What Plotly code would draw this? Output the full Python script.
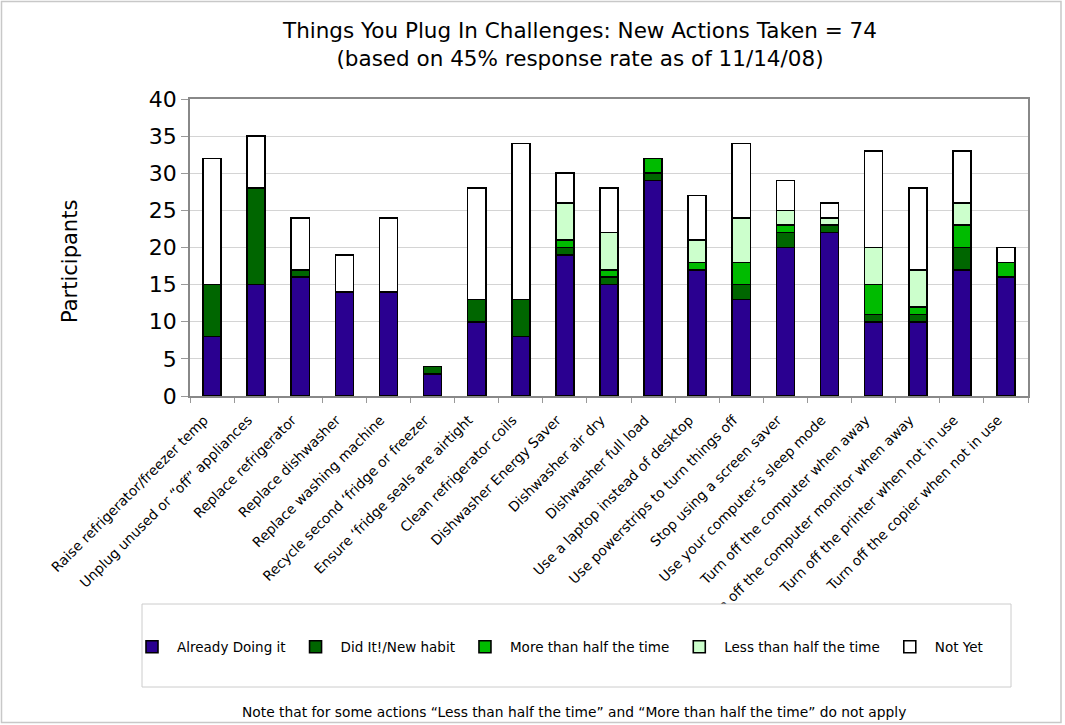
import plotly.graph_objects as go

categories = [
    "Raise refrigerator/freezer temp",
    "Unplug unused or \u201coff\u201d appliances",
    "Replace refrigerator",
    "Replace dishwasher",
    "Replace washing machine",
    "Recycle second \u2018fridge or freezer",
    "Ensure \u2018fridge seals are airtight",
    "Clean refrigerator coils",
    "Dishwasher Energy Saver",
    "Dishwasher air dry",
    "Dishwasher full load",
    "Use a laptop instead of desktop",
    "Use powerstrips to turn things off",
    "Stop using a screen saver",
    "Use your computer\u2019s sleep mode",
    "Turn off the computer when away",
    "Turn off the computer monitor when away",
    "Turn off the printer when not in use",
    "Turn off the copier when not in use",
]

already_doing = [8, 15, 16, 14, 14, 3, 10, 8, 19, 15, 29, 17, 13, 20, 22, 10, 10, 17, 16]
did_it = [7, 13, 1, 0, 0, 1, 3, 5, 1, 1, 1, 0, 2, 2, 1, 1, 1, 3, 0]
more_than_half = [0, 0, 0, 0, 0, 0, 0, 0, 1, 1, 2, 1, 3, 1, 0, 4, 1, 3, 2]
less_than_half = [0, 0, 0, 0, 0, 0, 0, 0, 5, 5, 0, 3, 6, 2, 1, 5, 5, 3, 0]
not_yet = [17, 7, 7, 5, 10, 0, 15, 21, 4, 6, 0, 6, 10, 4, 2, 13, 11, 7, 2]

series_names = ["Already Doing it", "Did It!/New habit", "More than half the time",
                "Less than half the time", "Not Yet"]
series_values = [already_doing, did_it, more_than_half, less_than_half, not_yet]
series_colors = ["#2a0090", "#006600", "#00bb00", "#ccffcc", "#ffffff"]

y_ticks = [0, 5, 10, 15, 20, 25, 30, 35, 40]

W, H = 1065, 725
L, R, T, B = 190, 37, 99, 329
PW, PH = W - L - R, H - T - B


def px(xp):
    return (xp - L) / PW


def py(yp):
    return (H - B - yp) / PH


FONT = "DejaVu Sans"

fig = go.Figure()
for name, vals, col in zip(series_names, series_values, series_colors):
    fig.add_trace(go.Bar(
        x=categories, y=vals, name=name,
        marker=dict(color=col, line=dict(color="#000000", width=1.6)),
    ))

fig.update_layout(
    width=W, height=H,
    margin=dict(l=L, r=R, t=T, b=B, autoexpand=False),
    barmode="stack", bargap=0.59,
    paper_bgcolor="white", plot_bgcolor="white",
    font=dict(family=FONT, color="#000000"),
    title=dict(
        text="Things You Plug In Challenges: New Actions Taken = 74<br>(based on 45% response rate as of 11/14/08)",
        font=dict(size=21.5, family=FONT, color="#000000"),
        x=580 / W, xanchor="center", xref="container",
        y=1 - 38 / H, yanchor="top", yref="container",
    ),
    xaxis=dict(
        tickangle=-45, tickfont=dict(size=13.8, family=FONT),
        ticks="outside", tickson="boundaries", ticklen=5, tickcolor="#999999",
        ticklabelstandoff=9, ticklabelshift=-8,
        showline=True, linecolor="#888888", linewidth=1.5, mirror=True,
        showgrid=False,
    ),
    yaxis=dict(
        range=[0, 40], tickvals=y_ticks, tickfont=dict(size=22, family=FONT),
        ticks="outside", ticklen=7, tickcolor="#999999",
        showline=True, linecolor="#888888", linewidth=1.5, mirror=True,
        showgrid=True, gridcolor="#d4d4d4", gridwidth=1,
        zeroline=False,
    ),
    showlegend=True,
    legend=dict(
        orientation="h", x=px(127), xanchor="left", y=py(647), yanchor="middle",
        font=dict(size=13.5, family=FONT), bgcolor="rgba(0,0,0,0)",
        itemwidth=40, traceorder="normal", itemclick=False,
    ),
    shapes=[
        dict(type="rect", xref="paper", yref="paper",
             x0=px(142), x1=px(1011), y0=py(604), y1=py(687),
             line=dict(color="#cccccc", width=1), fillcolor="white", layer="above"),
        dict(type="rect", xref="paper", yref="paper",
             x0=px(1.5), x1=px(1061), y0=py(1.5), y1=py(722.5),
             line=dict(color="#c8c8c8", width=1.5), fillcolor="rgba(0,0,0,0)", layer="above"),
    ],
    annotations=[
        dict(text="Participants", textangle=-90, xref="paper", yref="paper",
             x=px(70), y=py(262), xanchor="center", yanchor="middle",
             showarrow=False, font=dict(size=21, family=FONT)),
        dict(text="Note that for some actions \u201cLess than half the time\u201d and \u201cMore than half the time\u201d do not apply",
             xref="paper", yref="paper", x=px(573.5), y=py(712),
             xanchor="center", yanchor="middle", showarrow=False,
             font=dict(size=13.8, family=FONT)),
    ],
)

fig.write_html("out.html", config={"displayModeBar": False},
               post_script="document.body.style.margin='0px';")
